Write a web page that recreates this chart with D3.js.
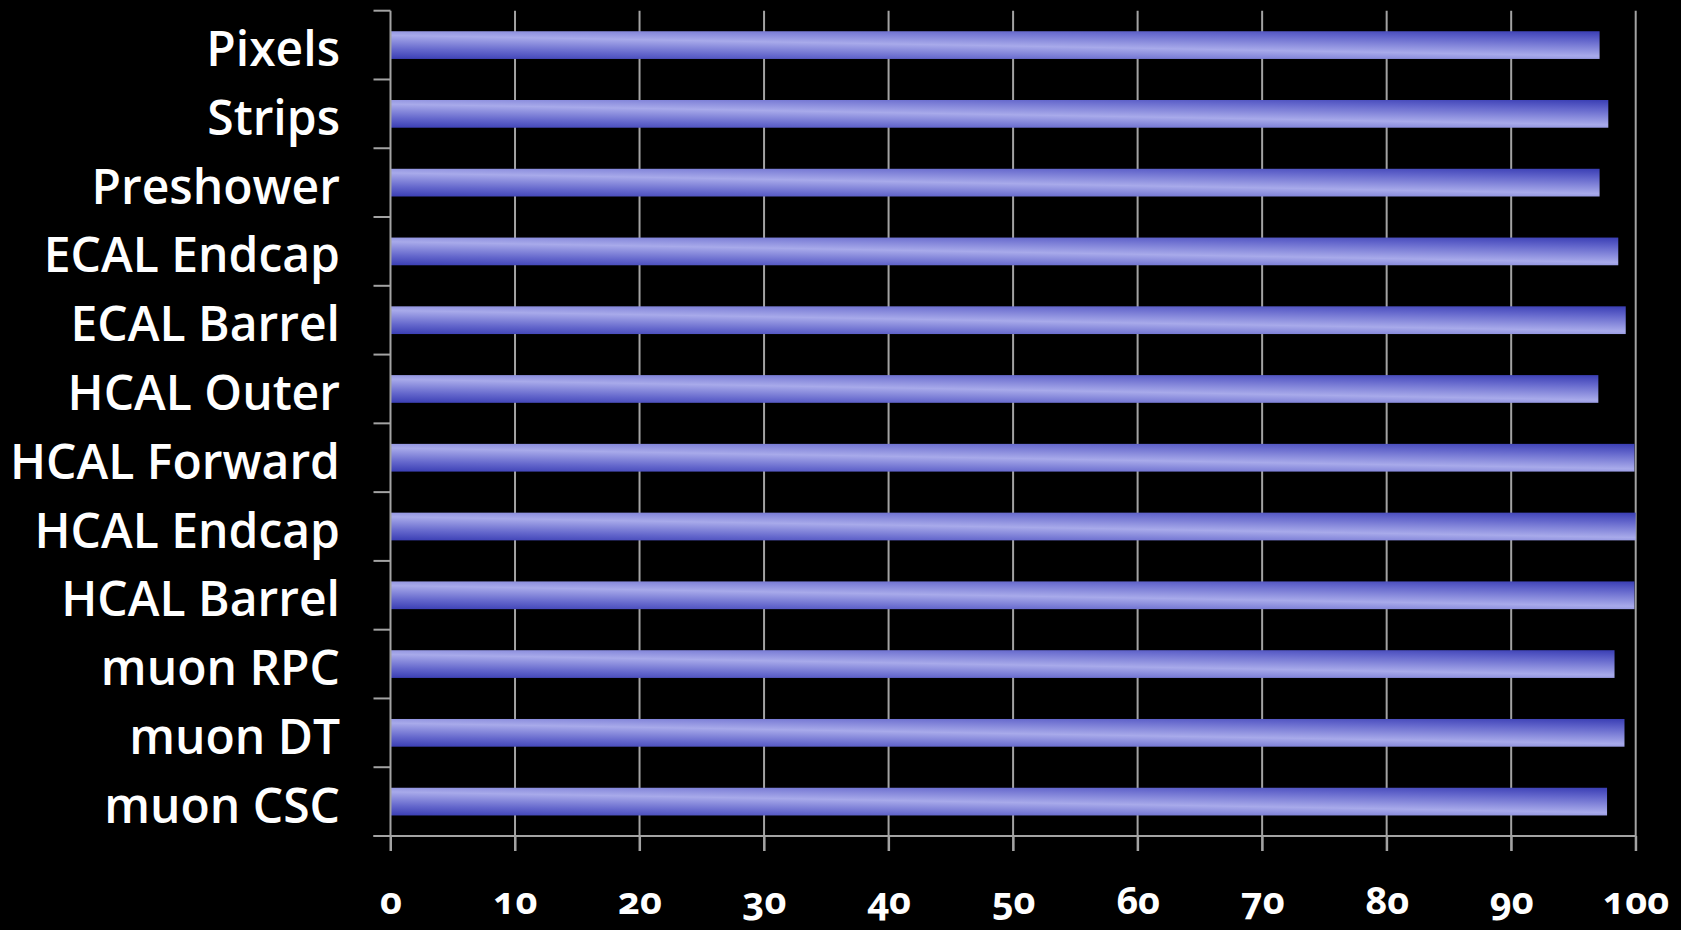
<!DOCTYPE html>
<html>
<head>
<meta charset="utf-8">
<script src="https://cdn.jsdelivr.net/npm/d3@7"></script>
<style>
  html, body { margin: 0; padding: 0; background: #000; }
  svg { display: block; }
</style>
</head>
<body>
<svg id="chart" width="1681" height="930"></svg>
<script>
// Detector subsystems, top to bottom, and the percentage of operational channels
const categories = [
  "Pixels", "Strips", "Preshower", "ECAL Endcap", "ECAL Barrel", "HCAL Outer",
  "HCAL Forward", "HCAL Endcap", "HCAL Barrel", "muon RPC", "muon DT", "muon CSC"
];
const values = [97.1, 97.8, 97.1, 98.6, 99.2, 97.0, 99.9, 100.0, 99.9, 98.3, 99.1, 97.7];
const tickValues = [0, 10, 20, 30, 40, 50, 60, 70, 80, 90, 100];

const W = 1681, H = 930;
const plot = { left: 390.5, right: 1635.7, top: 10.7, bottom: 836 };

const svg = d3.select("#chart");
svg.append("rect").attr("width", W).attr("height", H).attr("fill", "#000");

const x = d3.scaleLinear().domain([0, 100]).range([plot.left, plot.right]);
const y = d3.scaleBand()
  .domain(categories)
  .range([plot.top, plot.bottom])
  .paddingInner(0.597)
  .paddingOuter(0.2985);

// Bar shading: a light stripe that runs diagonally along each bar
const defs = svg.append("defs");
const grad = defs.append("linearGradient")
  .attr("id", "barShade")
  .attr("gradientUnits", "objectBoundingBox")
  .attr("x1", 0).attr("y1", -0.75)
  .attr("x2", 0).attr("y2", 1)
  .attr("gradientTransform", "skewY(36.87)");
[
  [0.00, "#3a3eb4"],
  [0.20, "#6467cc"],
  [0.514, "#a8aaea"],
  [0.80, "#6467cc"],
  [1.00, "#3a3eb4"]
].forEach(([o, c]) => grad.append("stop").attr("offset", o).attr("stop-color", c));

const gridColor = "#a3a3a3";

// Vertical gridlines (extend below the axis as tick marks)
svg.append("g")
  .selectAll("line")
  .data(tickValues.filter(d => d > 0))
  .join("line")
  .attr("x1", d => x(d)).attr("x2", d => x(d))
  .attr("y1", plot.top).attr("y2", plot.bottom + 15)
  .attr("stroke", gridColor)
  .attr("stroke-width", 2);

// Bars
svg.append("g")
  .selectAll("rect")
  .data(categories)
  .join("rect")
  .attr("x", x(0))
  .attr("y", d => y(d))
  .attr("height", y.bandwidth())
  .attr("width", (d, i) => x(values[i]) - x(0))
  .attr("fill", "url(#barShade)");

// Category axis with tick marks on band boundaries
const yAxisG = svg.append("g");
yAxisG.append("line")
  .attr("x1", x(0)).attr("x2", x(0))
  .attr("y1", plot.top).attr("y2", plot.bottom + 15)
  .attr("stroke", gridColor).attr("stroke-width", 2);
const step = y.step();
yAxisG.selectAll("line.bt")
  .data(d3.range(categories.length + 1))
  .join("line")
  .attr("class", "bt")
  .attr("x1", x(0) - 17).attr("x2", x(0))
  .attr("y1", i => plot.top + i * step)
  .attr("y2", i => plot.top + i * step)
  .attr("stroke", gridColor).attr("stroke-width", 2);

yAxisG.selectAll("text")
  .data(categories)
  .join("text")
  .attr("x", 340)
  .attr("y", d => y(d) + y.bandwidth() / 2 + 21)
  .attr("text-anchor", "end")
  .attr("fill", "#fff")
  .attr("font-family", "'Open Sans', sans-serif")
  .attr("font-weight", 600)
  .attr("font-size", 48)
  .text(d => d);

// Value axis
const xAxis = d3.axisBottom(x)
  .tickValues(tickValues)
  .tickSizeInner(15)
  .tickSizeOuter(0)
  .tickPadding(63);
const xAxisG = svg.append("g")
  .attr("transform", `translate(0,${plot.bottom})`)
  .call(xAxis);
xAxisG.select(".domain")
  .attr("d", `M${x(0) - 17},0H${x(100)}`)
  .attr("stroke", gridColor).attr("stroke-width", 2);
xAxisG.selectAll(".tick line").attr("stroke", gridColor).attr("stroke-width", 2);
xAxisG.selectAll(".tick text")
  .attr("fill", "#fff")
  .attr("dy", "0")
  .attr("font-family", "'Open Sans', sans-serif")
  .attr("font-weight", 700)
  .attr("font-size", 38)
  .style("font-variant-numeric", "oldstyle-nums");
</script>
</body>
</html>
